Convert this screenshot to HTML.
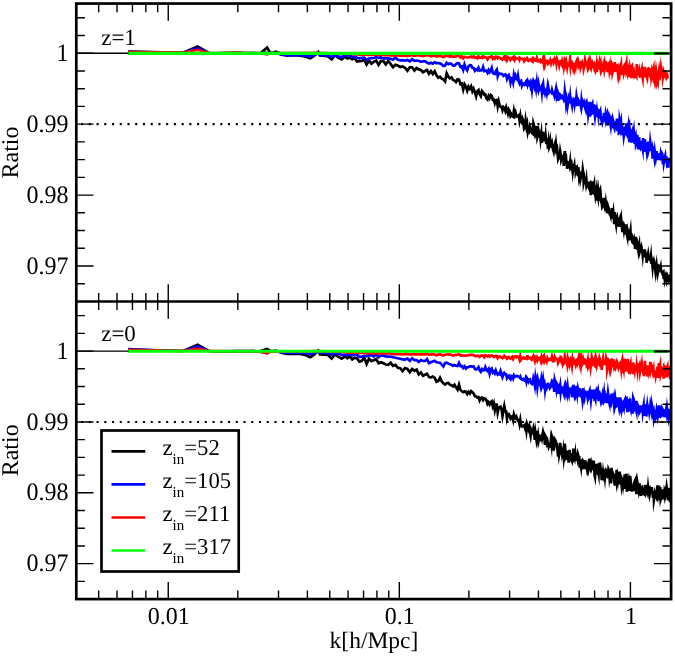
<!DOCTYPE html>
<html><head><meta charset="utf-8"><title>Ratio</title>
<style>
html,body{margin:0;padding:0;background:#fff;}
body{width:675px;height:656px;overflow:hidden;}
svg{display:block;will-change:transform;}
svg text{font-family:"Liberation Serif",serif;fill:#000;text-rendering:geometricPrecision;}
</style></head><body>
<svg width="675" height="656" viewBox="0 0 675 656">
<rect width="675" height="656" fill="#fff"/>
<defs><clipPath id="ct"><rect x="76.3" y="3.55" width="594.8000000000001" height="297.95"/></clipPath>
<clipPath id="cb"><rect x="76.3" y="301.5" width="594.8000000000001" height="297.6"/></clipPath>
<clipPath id="rt"><rect x="76.3" y="3.55" width="268.7" height="297.95"/><rect x="345" y="52.2" width="326.1" height="249.3"/></clipPath>
<clipPath id="rb"><rect x="76.3" y="301.5" width="268.7" height="297.6"/><rect x="345" y="350.1" width="326.1" height="249.0"/></clipPath></defs>
<g clip-path="url(#ct)" fill="none" stroke-linejoin="miter" stroke-miterlimit="10" stroke-linecap="butt">
<path d="M128.0,51.5 L162.8,52.3 L183.1,52.7 L197.6,46.4 L208.8,53.0 L217.9,53.3 L232.3,52.8 L238.3,52.6 L243.6,53.3 L248.4,53.4 L252.8,53.2 L256.7,53.4 L260.4,53.3 L267.1,47.6 L270.2,52.6 L273.0,52.8 L275.7,51.6 L278.3,52.4 L280.8,54.2 L283.1,54.8 L287.5,55.6 L289.5,55.3 L291.5,55.5 L295.0,55.2 L300.0,55.6 L305.0,56.5 L310.3,58.2 L314.0,56.0 L318.3,52.0 L320.0,55.5 L325.0,55.8 L328.0,56.5 L331.7,59.3 L335.0,55.0 L338.0,57.5 L341.7,59.3 L345.0,56.6 L347.4,58.4 L349.8,57.7 L352.2,59.3 L354.6,58.3 L357.0,61.5 L359.4,61.2 L361.8,61.0 L364.2,59.6 L366.6,64.5 L369.0,60.6 L371.4,63.6 L373.8,61.9 L376.2,60.5 L378.6,64.8 L381.0,60.9 L383.4,61.1 L385.8,64.4 L388.2,61.0 L390.6,63.9 L393.0,67.1 L395.4,64.8 L397.8,65.5 L400.2,67.0 L402.6,66.4 L405.0,67.7 L407.4,70.8 L409.8,67.4 L412.1,67.3 L414.4,70.5 L416.6,68.0 L418.8,69.4 L420.9,70.0 L423.0,72.2 L425.0,71.0 L427.0,70.0 L429.0,73.7 L430.9,71.1 L432.8,74.0 L434.7,71.3 L436.5,75.4 L438.3,77.8 L440.0,76.7 L441.7,78.7 L443.4,79.3 L445.1,81.4 L446.7,73.3 L448.4,76.9 L449.9,78.3 L451.5,77.3 L453.0,80.0 L454.5,80.6 L456.0,82.0 L457.5,79.3 L459.0,79.7 L460.4,84.0 L461.8,83.5 L463.2,89.5 L464.5,84.3 L465.9,86.6 L467.2,90.6 L468.5,86.7 L469.8,88.7 L471.1,86.4 L472.4,91.3 L473.6,88.7 L474.9,92.2 L476.1,96.2 L477.3,91.2 L478.5,90.1 L479.6,94.1 L480.8,96.2 L482.0,91.0 L483.1,92.4 L484.2,94.6 L485.3,94.5 L486.4,98.4 L487.5,99.5 L488.6,96.0 L489.6,98.0 L490.7,94.9 L491.7,95.7 L492.8,99.7 L493.8,99.5 L494.8,103.2 L495.8,100.4 L496.8,100.1 L497.7,106.3 L498.7,101.5 L499.7,105.9 L500.6,106.8 L501.6,106.8 L502.5,110.0 L503.4,107.0 L504.3,107.9 L505.3,110.9 L506.2,107.5 L507.0,110.5 L507.9,113.6 L508.8,109.6 L509.7,111.1 L510.5,115.8 L511.4,114.3 L512.2,116.1 L513.1,116.7 L513.9,110.9 L514.7,114.8 L515.5,112.6 L516.4,116.6 L517.2,116.3 L518.0,115.8 L518.8,115.2 L519.5,120.3 L520.3,116.0 L521.1,121.7 L521.9,122.7 L522.6,119.0 L523.4,121.0 L524.1,128.5 L524.9,127.3 L525.6,120.8 L526.4,126.5 L527.1,123.8 L527.8,131.6 L528.5,128.5 L529.2,130.3 L529.9,126.7 L530.6,129.1 L531.3,131.8 L532.0,132.9 L532.7,133.6 L533.4,123.5 L534.1,126.0 L534.8,131.7 L535.4,135.5 L536.1,134.1 L536.8,126.0 L537.4,137.3 L538.1,135.0 L538.7,130.8 L539.4,133.4 L540.0,132.9 L540.6,139.1 L541.3,134.0 L541.9,142.8 L542.5,133.2 L543.1,133.1 L543.8,140.5 L544.4,134.6 L545.0,141.5 L545.6,136.2 L546.2,142.8 L546.8,143.1 L547.4,141.7 L548.0,148.8 L548.6,142.5 L549.1,147.0 L549.7,145.1 L550.3,141.0 L550.9,145.9 L551.5,145.4 L552.0,143.6 L552.6,147.5 L553.1,149.6 L553.7,151.6 L554.3,147.3 L554.8,145.1 L555.4,147.8 L555.9,144.1 L556.4,149.2 L557.0,148.1 L557.5,152.9 L558.1,158.5 L558.6,157.0 L559.1,157.5 L559.6,156.7 L560.2,151.3 L560.7,154.1 L561.2,159.8 L561.7,158.3 L562.2,157.5 L562.7,158.4 L563.3,156.8 L563.8,166.0 L564.3,157.8 L564.8,151.0 L565.3,158.8 L565.7,153.7 L566.2,160.6 L566.7,163.5 L567.2,169.0 L567.7,162.6 L568.2,162.6 L568.7,162.3 L569.1,164.5 L569.6,166.3 L570.1,162.6 L570.6,170.0 L571.0,159.6 L571.5,164.5 L572.0,167.7 L572.4,164.1 L572.9,171.1 L573.3,168.5 L573.8,167.6 L574.3,165.5 L574.7,171.4 L575.2,165.1 L575.6,171.3 L576.1,169.2 L576.5,170.0 L577.0,168.8 L577.4,172.2 L577.9,176.1 L578.3,167.3 L578.8,171.0 L579.2,177.4 L579.7,175.2 L580.1,171.7 L580.6,178.4 L581.0,176.5 L581.5,176.5 L581.9,176.2 L582.4,174.8 L582.8,170.0 L583.3,173.4 L583.7,182.3 L584.2,180.0 L584.6,184.0 L585.1,178.7 L585.5,178.3 L586.0,182.5 L586.4,179.7 L586.9,185.3 L587.3,184.3 L587.8,183.8 L588.2,186.9 L588.7,187.1 L589.1,188.1 L589.6,183.2 L590.0,182.8 L590.5,190.7 L590.9,195.1 L591.4,184.2 L591.8,187.6 L592.3,181.4 L592.7,193.7 L593.2,190.0 L593.6,187.4 L594.1,185.0 L594.5,194.9 L595.0,191.8 L595.4,195.1 L595.9,191.9 L596.3,189.9 L596.8,200.6 L597.2,191.5 L597.7,194.3 L598.1,191.2 L598.6,196.6 L599.0,193.8 L599.5,192.2 L599.9,199.1 L600.4,199.7 L600.8,196.3 L601.3,201.9 L601.7,201.9 L602.2,206.9 L602.6,206.2 L603.1,198.8 L603.5,203.3 L604.0,197.9 L604.4,206.1 L604.9,207.8 L605.3,206.3 L605.8,202.2 L606.2,205.1 L606.7,205.5 L607.1,213.3 L607.6,209.2 L608.0,206.3 L608.5,208.1 L608.9,208.3 L609.4,211.8 L609.8,214.1 L610.3,214.1 L610.7,215.6 L611.2,210.6 L611.6,214.9 L612.1,208.1 L612.5,216.6 L613.0,216.1 L613.4,213.0 L613.9,218.1 L614.3,224.1 L614.8,212.0 L615.2,221.1 L615.7,221.3 L616.1,224.0 L616.6,218.5 L617.0,217.4 L617.5,222.6 L617.9,226.6 L618.4,220.9 L618.8,225.4 L619.3,219.9 L619.7,218.8 L620.2,226.8 L620.6,221.5 L621.1,218.8 L621.5,223.9 L622.0,227.6 L622.4,232.2 L622.9,225.0 L623.3,225.9 L623.8,229.4 L624.2,225.9 L624.7,227.3 L625.1,234.3 L625.6,225.9 L626.0,230.2 L626.5,224.3 L626.9,234.5 L627.4,236.9 L627.8,231.1 L628.3,233.1 L628.7,231.4 L629.2,232.3 L629.6,240.5 L630.1,233.5 L630.5,231.0 L631.0,239.5 L631.4,233.3 L631.9,238.1 L632.3,242.0 L632.8,242.6 L633.2,239.8 L633.7,238.6 L634.1,243.3 L634.6,237.8 L635.0,248.9 L635.5,236.8 L635.9,240.5 L636.4,247.7 L636.8,242.3 L637.3,250.0 L637.7,246.5 L638.2,249.6 L638.6,246.9 L639.1,244.6 L639.5,252.6 L640.0,250.9 L640.4,250.0 L640.9,248.0 L641.3,246.7 L641.8,249.1 L642.2,250.2 L642.7,254.9 L643.1,250.8 L643.6,251.3 L644.0,257.4 L644.5,250.7 L644.9,250.7 L645.4,252.9 L645.8,254.0 L646.3,255.8 L646.7,262.8 L647.2,252.9 L647.6,256.1 L648.1,253.8 L648.5,257.0 L649.0,258.8 L649.4,258.5 L649.9,259.1 L650.3,259.9 L650.8,256.5 L651.2,263.6 L651.7,259.8 L652.1,262.1 L652.6,266.9 L653.0,263.0 L653.5,261.4 L653.9,264.8 L654.4,263.4 L654.8,265.8 L655.3,269.9 L655.7,264.9 L656.2,269.1 L656.6,265.9 L657.1,270.7 L657.5,263.8 L658.0,271.6 L658.4,269.4 L658.9,268.2 L659.3,269.9 L659.8,269.0 L660.2,269.4 L660.7,267.1 L661.1,270.7 L661.6,272.1 L662.0,272.2 L662.5,273.6 L662.9,272.3 L663.4,271.8 L663.8,279.2 L664.3,274.2 L664.7,278.3 L665.2,275.5 L665.6,274.7 L666.1,277.3 L666.5,272.5 L667.0,280.1 L667.4,279.1 L667.9,279.0 L668.3,278.5 L668.8,274.5 L669.2,282.7 L669.7,275.2 L670.1,281.2 L670.6,277.3 L671.0,282.6 L671.5,278.2 L671.9,286.2 L672.4,280.6 L672.8,282.3" stroke="#000000" stroke-width="2.7"/>
<path d="M128.0,51.9 L162.8,52.5 L183.1,52.8 L197.6,48.3 L208.8,53.1 L217.9,53.3 L232.3,53.0 L238.3,52.9 L243.6,53.3 L252.8,53.2 L260.4,53.3 L267.1,52.8 L270.2,53.0 L275.7,53.0 L280.8,54.4 L283.1,54.9 L287.5,55.3 L291.5,55.2 L300.0,55.2 L305.0,55.6 L310.3,56.3 L314.0,55.3 L318.3,53.2 L320.0,55.2 L328.0,55.6 L331.7,57.0 L335.0,55.0 L338.0,56.2 L341.7,57.2 L345.0,55.3 L347.4,55.3 L349.8,55.1 L352.2,56.9 L354.6,56.6 L357.0,57.8 L359.4,58.3 L361.8,57.8 L364.2,57.6 L366.6,59.9 L369.0,58.5 L371.4,58.2 L373.8,58.0 L376.2,57.2 L378.6,57.8 L381.0,57.4 L383.4,58.4 L385.8,58.2 L388.2,58.4 L390.6,58.8 L393.0,59.7 L395.4,57.5 L397.8,59.8 L400.2,60.3 L402.6,60.1 L405.0,60.6 L407.4,60.0 L409.8,61.4 L412.1,59.3 L414.4,60.8 L416.6,60.5 L418.8,60.7 L420.9,61.8 L423.0,61.3 L425.0,61.1 L427.0,62.5 L429.0,63.6 L430.9,62.7 L432.8,63.6 L434.7,62.4 L436.5,63.2 L438.3,63.2 L440.0,63.3 L441.7,64.3 L443.4,65.9 L445.1,65.5 L446.7,62.8 L448.4,64.2 L449.9,63.4 L451.5,64.0 L453.0,65.6 L454.5,65.6 L456.0,64.0 L457.5,63.1 L459.0,63.3 L460.4,66.8 L461.8,66.4 L463.2,69.9 L464.5,64.5 L465.9,68.4 L467.2,70.4 L468.5,66.2 L469.8,65.2 L471.1,65.3 L472.4,67.8 L473.6,68.0 L474.9,70.8 L476.1,69.3 L477.3,70.1 L478.5,67.8 L479.6,70.6 L480.8,70.5 L482.0,70.1 L483.1,67.0 L484.2,71.0 L485.3,70.7 L486.4,70.7 L487.5,72.7 L488.6,70.2 L489.6,72.2 L490.7,70.4 L491.7,67.9 L492.8,73.0 L493.8,73.8 L494.8,74.0 L495.8,71.1 L496.8,69.7 L497.7,76.1 L498.7,73.1 L499.7,73.8 L500.6,73.8 L501.6,73.9 L502.5,74.5 L503.4,75.8 L504.3,75.1 L505.3,74.5 L506.2,75.3 L507.0,78.8 L507.9,76.4 L508.8,75.2 L509.7,78.4 L510.5,82.5 L511.4,78.3 L512.2,78.7 L513.1,82.2 L513.9,75.0 L514.7,78.2 L515.5,75.9 L516.4,78.8 L517.2,79.6 L518.0,75.9 L518.8,81.6 L519.5,83.3 L520.3,81.0 L521.1,80.7 L521.9,85.5 L522.6,83.7 L523.4,83.7 L524.1,84.6 L524.9,83.4 L525.6,84.2 L526.4,80.9 L527.1,80.1 L527.8,84.5 L528.5,82.4 L529.2,83.7 L529.9,82.3 L530.6,86.3 L531.3,84.3 L532.0,89.7 L532.7,84.1 L533.4,80.4 L534.1,81.5 L534.8,86.3 L535.4,84.2 L536.1,88.7 L536.8,82.7 L537.4,88.2 L538.1,90.3 L538.7,84.9 L539.4,89.1 L540.0,87.8 L540.6,88.2 L541.3,86.9 L541.9,92.1 L542.5,85.8 L543.1,83.8 L543.8,91.2 L544.4,90.2 L545.0,92.8 L545.6,90.0 L546.2,89.9 L546.8,92.9 L547.4,88.5 L548.0,95.0 L548.6,89.0 L549.1,91.9 L549.7,92.0 L550.3,91.5 L550.9,91.7 L551.5,92.5 L552.0,90.1 L552.6,92.4 L553.1,93.3 L553.7,93.7 L554.3,95.6 L554.8,92.4 L555.4,92.0 L555.9,89.4 L556.4,94.3 L557.0,91.0 L557.5,93.1 L558.1,100.8 L558.6,96.7 L559.1,98.9 L559.6,98.6 L560.2,95.0 L560.7,95.6 L561.2,95.5 L561.7,95.5 L562.2,98.0 L562.7,97.9 L563.3,98.1 L563.8,99.5 L564.3,97.9 L564.8,91.4 L565.3,95.4 L565.7,96.1 L566.2,103.4 L566.7,100.3 L567.2,104.0 L567.7,97.8 L568.2,102.0 L568.7,99.0 L569.1,100.9 L569.6,100.8 L570.1,96.9 L570.6,103.4 L571.0,96.9 L571.5,102.3 L572.0,105.0 L572.4,101.0 L572.9,106.2 L573.3,101.2 L573.8,99.9 L574.3,101.0 L574.7,104.5 L575.2,101.8 L575.6,100.0 L576.1,100.6 L576.5,96.2 L577.0,99.3 L577.4,106.2 L577.9,102.2 L578.3,101.2 L578.8,103.6 L579.2,103.9 L579.7,102.3 L580.1,102.9 L580.6,105.0 L581.0,106.9 L581.5,101.0 L581.9,104.3 L582.4,101.0 L582.8,102.1 L583.3,105.8 L583.7,105.7 L584.2,103.6 L584.6,105.4 L585.1,107.3 L585.5,105.6 L586.0,108.4 L586.4,105.8 L586.9,108.3 L587.3,105.3 L587.8,107.7 L588.2,113.6 L588.7,109.9 L589.1,107.3 L589.6,102.0 L590.0,116.7 L590.5,112.0 L590.9,115.1 L591.4,108.1 L591.8,104.0 L592.3,103.3 L592.7,114.4 L593.2,107.5 L593.6,109.3 L594.1,104.3 L594.5,111.1 L595.0,115.9 L595.4,112.6 L595.9,105.4 L596.3,110.9 L596.8,117.1 L597.2,112.2 L597.7,115.9 L598.1,108.9 L598.6,115.1 L599.0,112.1 L599.5,111.6 L599.9,113.4 L600.4,111.8 L600.8,115.7 L601.3,119.1 L601.7,121.6 L602.2,123.0 L602.6,121.0 L603.1,116.3 L603.5,122.0 L604.0,112.8 L604.4,117.2 L604.9,117.4 L605.3,119.3 L605.8,113.8 L606.2,115.6 L606.7,115.1 L607.1,125.4 L607.6,118.3 L608.0,114.0 L608.5,115.6 L608.9,121.7 L609.4,122.3 L609.8,119.9 L610.3,123.3 L610.7,125.7 L611.2,120.3 L611.6,118.9 L612.1,115.8 L612.5,128.4 L613.0,120.4 L613.4,122.0 L613.9,124.4 L614.3,126.4 L614.8,123.3 L615.2,123.1 L615.7,122.5 L616.1,125.4 L616.6,122.9 L617.0,118.7 L617.5,127.2 L617.9,130.8 L618.4,119.3 L618.8,133.3 L619.3,133.0 L619.7,119.6 L620.2,122.0 L620.6,126.6 L621.1,123.4 L621.5,129.5 L622.0,128.5 L622.4,134.2 L622.9,134.3 L623.3,130.3 L623.8,136.0 L624.2,133.4 L624.7,126.5 L625.1,131.6 L625.6,129.7 L626.0,130.5 L626.5,123.2 L626.9,134.5 L627.4,135.5 L627.8,130.2 L628.3,126.8 L628.7,132.8 L629.2,130.1 L629.6,142.0 L630.1,131.3 L630.5,133.5 L631.0,142.7 L631.4,133.5 L631.9,132.1 L632.3,142.2 L632.8,139.1 L633.2,134.3 L633.7,131.2 L634.1,137.4 L634.6,143.8 L635.0,136.5 L635.5,135.2 L635.9,143.8 L636.4,142.2 L636.8,139.4 L637.3,134.8 L637.7,143.8 L638.2,149.3 L638.6,141.5 L639.1,137.1 L639.5,145.8 L640.0,147.7 L640.4,148.4 L640.9,146.7 L641.3,145.4 L641.8,140.9 L642.2,145.9 L642.7,148.7 L643.1,138.1 L643.6,145.2 L644.0,152.0 L644.5,144.5 L644.9,139.4 L645.4,145.7 L645.8,145.1 L646.3,147.4 L646.7,150.6 L647.2,145.5 L647.6,150.9 L648.1,141.6 L648.5,150.6 L649.0,148.6 L649.4,147.4 L649.9,147.9 L650.3,142.4 L650.8,146.2 L651.2,150.1 L651.7,150.6 L652.1,149.6 L652.6,158.6 L653.0,149.4 L653.5,151.4 L653.9,152.7 L654.4,156.7 L654.8,152.4 L655.3,156.5 L655.7,158.7 L656.2,155.5 L656.6,151.1 L657.1,160.1 L657.5,154.8 L658.0,159.3 L658.4,153.0 L658.9,156.7 L659.3,160.2 L659.8,153.0 L660.2,158.4 L660.7,154.4 L661.1,156.5 L661.6,155.1 L662.0,153.6 L662.5,154.7 L662.9,164.3 L663.4,157.2 L663.8,162.7 L664.3,159.9 L664.7,158.0 L665.2,156.0 L665.6,160.0 L666.1,159.3 L666.5,158.8 L667.0,163.6 L667.4,162.6 L667.9,162.4 L668.3,167.7 L668.8,157.6" stroke="#0000ff" stroke-width="2.7"/>
<path d="M128.0,52.0 L162.8,52.4 L183.1,52.7 L197.6,49.8 L208.8,53.0 L217.9,53.2 L238.3,52.6 L252.8,53.0 L260.4,53.2 L267.1,54.3 L270.2,53.0 L280.8,53.0 L300.0,53.0 L318.3,52.8 L330.0,53.3 L341.7,53.6 L345.0,53.7 L347.4,54.0 L349.8,53.6 L352.2,54.0 L354.6,54.1 L357.0,54.5 L359.4,54.6 L361.8,54.6 L364.2,54.4 L366.6,54.8 L369.0,54.9 L371.4,54.7 L373.8,54.7 L376.2,54.7 L378.6,55.2 L381.0,54.8 L383.4,54.8 L385.8,55.2 L388.2,54.9 L390.6,55.3 L393.0,55.6 L395.4,55.4 L397.8,55.3 L400.2,55.7 L402.6,55.7 L405.0,55.9 L407.4,56.0 L409.8,55.7 L412.1,54.9 L414.4,55.8 L416.6,55.5 L418.8,55.2 L420.9,55.7 L423.0,56.1 L425.0,55.4 L427.0,55.4 L429.0,55.5 L430.9,56.2 L432.8,55.6 L434.7,55.7 L436.5,56.3 L438.3,56.2 L440.0,56.0 L441.7,56.4 L443.4,57.1 L445.1,56.2 L446.7,55.7 L448.4,56.1 L449.9,56.6 L451.5,56.1 L453.0,56.8 L454.5,56.6 L456.0,56.5 L457.5,55.6 L459.0,55.7 L460.4,57.4 L461.8,56.4 L463.2,58.3 L464.5,56.9 L465.9,57.3 L467.2,57.5 L468.5,57.3 L469.8,57.0 L471.1,56.5 L472.4,57.3 L473.6,56.4 L474.9,57.8 L476.1,57.4 L477.3,58.3 L478.5,56.3 L479.6,57.6 L480.8,57.6 L482.0,57.8 L483.1,55.9 L484.2,57.5 L485.3,57.1 L486.4,57.5 L487.5,59.4 L488.6,57.5 L489.6,57.0 L490.7,56.7 L491.7,56.3 L492.8,58.8 L493.8,57.7 L494.8,58.6 L495.8,56.7 L496.8,56.8 L497.7,58.3 L498.7,57.1 L499.7,57.8 L500.6,58.5 L501.6,58.4 L502.5,59.7 L503.4,59.1 L504.3,56.7 L505.3,58.9 L506.2,56.8 L507.0,59.7 L507.9,57.4 L508.8,58.0 L509.7,58.1 L510.5,59.9 L511.4,58.7 L512.2,57.8 L513.1,58.9 L513.9,57.1 L514.7,59.7 L515.5,57.8 L516.4,58.6 L517.2,58.5 L518.0,58.5 L518.8,57.9 L519.5,59.9 L520.3,58.2 L521.1,58.6 L521.9,58.8 L522.6,58.7 L523.4,59.2 L524.1,60.9 L524.9,59.2 L525.6,60.1 L526.4,59.4 L527.1,58.2 L527.8,59.4 L528.5,60.8 L529.2,60.4 L529.9,60.1 L530.6,59.0 L531.3,59.0 L532.0,61.1 L532.7,61.6 L533.4,58.3 L534.1,59.0 L534.8,60.2 L535.4,60.3 L536.1,60.6 L536.8,58.1 L537.4,61.0 L538.1,61.4 L538.7,60.9 L539.4,60.3 L540.0,59.9 L540.6,61.7 L541.3,61.0 L541.9,61.6 L542.5,60.5 L543.1,58.3 L543.8,63.3 L544.4,59.9 L545.0,64.2 L545.6,61.5 L546.2,61.2 L546.8,61.7 L547.4,61.2 L548.0,63.7 L548.6,62.9 L549.1,62.4 L549.7,62.7 L550.3,60.7 L550.9,63.0 L551.5,60.4 L552.0,60.6 L552.6,60.4 L553.1,60.0 L553.7,62.7 L554.3,61.3 L554.8,59.3 L555.4,60.7 L555.9,59.9 L556.4,63.4 L557.0,59.5 L557.5,61.3 L558.1,62.0 L558.6,62.2 L559.1,64.7 L559.6,61.6 L560.2,61.3 L560.7,61.8 L561.2,63.9 L561.7,64.8 L562.2,61.8 L562.7,64.0 L563.3,63.2 L563.8,66.9 L564.3,63.5 L564.8,59.0 L565.3,59.6 L565.7,63.4 L566.2,61.5 L566.7,64.2 L567.2,67.3 L567.7,64.2 L568.2,64.8 L568.7,65.1 L569.1,63.7 L569.6,62.7 L570.1,59.2 L570.6,65.7 L571.0,62.9 L571.5,64.9 L572.0,65.6 L572.4,64.5 L572.9,67.0 L573.3,64.1 L573.8,64.3 L574.3,67.8 L574.7,65.3 L575.2,64.7 L575.6,66.6 L576.1,62.1 L576.5,61.6 L577.0,60.3 L577.4,61.8 L577.9,64.2 L578.3,62.1 L578.8,64.3 L579.2,62.7 L579.7,62.6 L580.1,62.5 L580.6,67.4 L581.0,66.1 L581.5,62.5 L581.9,62.0 L582.4,64.7 L582.8,64.0 L583.3,64.4 L583.7,68.7 L584.2,66.7 L584.6,65.3 L585.1,60.0 L585.5,61.7 L586.0,64.1 L586.4,64.1 L586.9,63.9 L587.3,65.9 L587.8,63.9 L588.2,69.2 L588.7,68.4 L589.1,62.8 L589.6,60.8 L590.0,66.9 L590.5,66.9 L590.9,67.9 L591.4,64.2 L591.8,65.7 L592.3,64.2 L592.7,66.7 L593.2,66.3 L593.6,65.2 L594.1,61.7 L594.5,69.8 L595.0,70.8 L595.4,65.0 L595.9,65.9 L596.3,67.1 L596.8,72.2 L597.2,64.1 L597.7,66.7 L598.1,67.0 L598.6,67.5 L599.0,65.1 L599.5,62.4 L599.9,65.0 L600.4,68.1 L600.8,65.5 L601.3,71.1 L601.7,70.1 L602.2,70.1 L602.6,70.3 L603.1,66.7 L603.5,68.1 L604.0,64.9 L604.4,68.9 L604.9,65.8 L605.3,69.0 L605.8,61.1 L606.2,69.1 L606.7,64.8 L607.1,72.3 L607.6,67.6 L608.0,64.0 L608.5,63.6 L608.9,64.7 L609.4,69.7 L609.8,67.1 L610.3,74.7 L610.7,68.4 L611.2,65.3 L611.6,63.8 L612.1,65.3 L612.5,72.4 L613.0,70.3 L613.4,64.1 L613.9,64.0 L614.3,72.1 L614.8,62.0 L615.2,70.3 L615.7,70.7 L616.1,70.8 L616.6,68.7 L617.0,65.6 L617.5,65.3 L617.9,70.4 L618.4,66.8 L618.8,73.7 L619.3,70.8 L619.7,73.4 L620.2,69.1 L620.6,67.1 L621.1,64.8 L621.5,71.0 L622.0,66.8 L622.4,75.0 L622.9,69.0 L623.3,68.1 L623.8,73.0 L624.2,71.4 L624.7,69.2 L625.1,73.7 L625.6,63.1 L626.0,67.6 L626.5,64.4 L626.9,72.2 L627.4,73.9 L627.8,70.9 L628.3,68.5 L628.7,70.1 L629.2,73.6 L629.6,76.8 L630.1,68.5 L630.5,70.5 L631.0,78.1 L631.4,67.0 L631.9,66.2 L632.3,76.5 L632.8,76.6 L633.2,71.7 L633.7,70.5 L634.1,72.8 L634.6,76.9 L635.0,76.5 L635.5,70.7 L635.9,75.5 L636.4,76.4 L636.8,64.1 L637.3,72.2 L637.7,71.6 L638.2,72.5 L638.6,73.4 L639.1,71.1 L639.5,74.8 L640.0,74.5 L640.4,76.3 L640.9,76.1 L641.3,71.1 L641.8,69.2 L642.2,75.4 L642.7,78.0 L643.1,71.0 L643.6,66.8 L644.0,76.0 L644.5,75.5 L644.9,66.8 L645.4,76.2 L645.8,76.3 L646.3,75.7 L646.7,76.9 L647.2,69.9 L647.6,73.0 L648.1,67.5 L648.5,71.7 L649.0,73.0 L649.4,69.1 L649.9,69.4 L650.3,74.8 L650.8,70.4 L651.2,76.1 L651.7,72.8 L652.1,75.9 L652.6,77.4 L653.0,70.1 L653.5,68.2 L653.9,76.5 L654.4,76.4 L654.8,79.4 L655.3,75.2 L655.7,78.0 L656.2,71.8 L656.6,74.7 L657.1,80.1 L657.5,77.9 L658.0,80.5 L658.4,75.4 L658.9,71.9 L659.3,77.1 L659.8,77.9 L660.2,76.4 L660.7,74.5 L661.1,67.9 L661.6,70.9 L662.0,69.7 L662.5,70.6 L662.9,77.1 L663.4,74.3 L663.8,78.1 L664.3,72.8 L664.7,77.0 L665.2,70.2 L665.6,76.5 L666.1,76.7 L666.5,77.9 L667.0,76.8 L667.4,75.6 L667.9,76.9 L668.3,76.6" stroke="#ff0000" stroke-width="2.7" clip-path="url(#rt)"/>
<path d="M128,53.4 L667.8,53.4" stroke="#00ff00" stroke-width="3.1"/>
<path d="M76.3,53.25 L128.5,53.25" stroke="#000" stroke-width="1.3"/>
<path d="M653.9,53.6 L671.1,53.6" stroke="#000" stroke-width="1.9"/>
<path d="M76.3,124.14880952380884 L671.1,124.14880952380884" stroke="#000" stroke-width="2.1" stroke-dasharray="2.1 5.635" stroke-dashoffset="2.995"/>
</g>
<g clip-path="url(#cb)" fill="none" stroke-linejoin="miter" stroke-miterlimit="10" stroke-linecap="butt">
<path d="M128.0,349.6 L162.8,350.7 L183.1,351.0 L197.6,344.7 L208.8,351.0 L217.9,351.3 L232.3,351.5 L238.3,351.2 L243.6,351.3 L248.4,351.4 L252.8,351.2 L256.7,351.4 L260.4,351.0 L267.1,349.0 L270.2,351.0 L273.0,351.2 L275.7,350.6 L278.3,351.4 L280.8,352.6 L283.1,353.2 L287.5,354.0 L289.5,353.8 L291.5,353.9 L295.0,353.7 L300.0,354.0 L305.0,354.8 L310.3,357.2 L314.0,354.6 L318.3,350.8 L320.0,354.4 L325.0,354.6 L328.0,355.0 L331.7,358.6 L335.0,354.5 L338.0,356.5 L341.7,358.6 L345.0,356.3 L347.4,358.2 L349.8,356.4 L352.2,359.4 L354.6,357.8 L357.0,358.5 L359.4,361.6 L361.8,360.8 L364.2,357.5 L366.6,364.0 L369.0,358.6 L371.4,361.1 L373.8,360.3 L376.2,359.1 L378.6,363.3 L381.0,362.2 L383.4,363.3 L385.8,364.5 L388.2,364.8 L390.6,362.7 L393.0,365.8 L395.4,364.9 L397.8,367.7 L400.2,368.2 L402.6,371.1 L405.0,368.0 L407.4,368.9 L409.8,372.2 L412.1,368.9 L414.4,370.8 L416.6,369.6 L418.8,374.4 L420.9,372.6 L423.0,375.8 L425.0,374.7 L427.0,373.8 L429.0,377.1 L430.9,377.4 L432.8,376.5 L434.7,377.9 L436.5,381.7 L438.3,380.9 L440.0,377.8 L441.7,381.4 L443.4,383.2 L445.1,384.6 L446.7,383.3 L448.4,382.9 L449.9,384.8 L451.5,385.2 L453.0,386.4 L454.5,384.8 L456.0,387.4 L457.5,389.6 L459.0,384.6 L460.4,389.9 L461.8,391.3 L463.2,392.2 L464.5,391.3 L465.9,391.7 L467.2,394.0 L468.5,391.9 L469.8,393.5 L471.1,391.2 L472.4,392.3 L473.6,393.5 L474.9,396.2 L476.1,396.4 L477.3,397.6 L478.5,397.2 L479.6,400.5 L480.8,398.0 L482.0,397.7 L483.1,400.0 L484.2,398.3 L485.3,398.7 L486.4,400.1 L487.5,403.9 L488.6,402.3 L489.6,404.4 L490.7,402.3 L491.7,401.4 L492.8,406.2 L493.8,403.4 L494.8,409.7 L495.8,404.4 L496.8,404.6 L497.7,412.4 L498.7,408.0 L499.7,407.1 L500.6,406.6 L501.6,409.5 L502.5,415.9 L503.4,410.7 L504.3,406.0 L505.3,411.4 L506.2,411.6 L507.0,418.5 L507.9,415.1 L508.8,414.2 L509.7,415.5 L510.5,418.3 L511.4,416.7 L512.2,416.5 L513.1,419.9 L513.9,414.4 L514.7,416.9 L515.5,418.1 L516.4,416.6 L517.2,419.0 L518.0,420.4 L518.8,421.3 L519.5,424.4 L520.3,419.9 L521.1,425.1 L521.9,426.5 L522.6,426.5 L523.4,425.7 L524.1,425.3 L524.9,427.8 L525.6,425.8 L526.4,430.9 L527.1,424.7 L527.8,427.2 L528.5,429.2 L529.2,426.7 L529.9,431.9 L530.6,435.6 L531.3,430.0 L532.0,431.6 L532.7,432.5 L533.4,428.9 L534.1,432.6 L534.8,439.8 L535.4,432.5 L536.1,437.3 L536.8,431.0 L537.4,438.8 L538.1,434.9 L538.7,439.7 L539.4,435.8 L540.0,435.8 L540.6,438.3 L541.3,436.8 L541.9,438.9 L542.5,435.7 L543.1,432.0 L543.8,434.7 L544.4,438.2 L545.0,445.0 L545.6,436.6 L546.2,437.9 L546.8,442.8 L547.4,441.2 L548.0,444.7 L548.6,446.8 L549.1,445.0 L549.7,445.4 L550.3,446.0 L550.9,440.2 L551.5,444.5 L552.0,437.0 L552.6,439.1 L553.1,449.2 L553.7,449.4 L554.3,447.3 L554.8,439.5 L555.4,440.5 L555.9,441.6 L556.4,444.3 L557.0,444.3 L557.5,449.8 L558.1,456.6 L558.6,448.5 L559.1,454.5 L559.6,451.6 L560.2,442.9 L560.7,450.5 L561.2,449.7 L561.7,452.8 L562.2,448.8 L562.7,456.2 L563.3,451.4 L563.8,457.4 L564.3,453.2 L564.8,443.7 L565.3,450.5 L565.7,456.0 L566.2,454.5 L566.7,454.4 L567.2,459.8 L567.7,450.5 L568.2,457.3 L568.7,462.6 L569.1,457.2 L569.6,449.8 L570.1,459.9 L570.6,453.2 L571.0,456.8 L571.5,460.4 L572.0,461.4 L572.4,456.7 L572.9,461.5 L573.3,448.5 L573.8,456.0 L574.3,457.0 L574.7,458.4 L575.2,454.8 L575.6,460.5 L576.1,455.5 L576.5,456.6 L577.0,456.7 L577.4,458.6 L577.9,454.2 L578.3,455.5 L578.8,461.4 L579.2,456.0 L579.7,467.8 L580.1,459.3 L580.6,464.7 L581.0,467.0 L581.5,460.7 L581.9,460.4 L582.4,467.6 L582.8,467.1 L583.3,462.1 L583.7,463.0 L584.2,464.4 L584.6,469.2 L585.1,460.1 L585.5,466.9 L586.0,461.5 L586.4,466.3 L586.9,467.8 L587.3,470.3 L587.8,468.3 L588.2,470.1 L588.7,467.4 L589.1,459.9 L589.6,459.7 L590.0,461.0 L590.5,469.4 L590.9,470.3 L591.4,468.8 L591.8,465.7 L592.3,468.9 L592.7,468.7 L593.2,466.2 L593.6,460.6 L594.1,464.5 L594.5,474.8 L595.0,476.9 L595.4,470.8 L595.9,467.0 L596.3,463.9 L596.8,473.4 L597.2,473.3 L597.7,472.7 L598.1,470.8 L598.6,473.6 L599.0,463.1 L599.5,468.9 L599.9,462.6 L600.4,467.7 L600.8,469.3 L601.3,470.8 L601.7,480.3 L602.2,472.3 L602.6,477.2 L603.1,472.5 L603.5,475.2 L604.0,473.0 L604.4,473.1 L604.9,477.2 L605.3,472.7 L605.8,473.7 L606.2,471.2 L606.7,472.4 L607.1,475.4 L607.6,476.4 L608.0,475.9 L608.5,469.2 L608.9,470.1 L609.4,476.1 L609.8,473.1 L610.3,481.9 L610.7,482.0 L611.2,472.7 L611.6,467.8 L612.1,477.1 L612.5,471.3 L613.0,477.5 L613.4,473.4 L613.9,481.1 L614.3,481.0 L614.8,485.5 L615.2,474.8 L615.7,485.5 L616.1,482.8 L616.6,469.8 L617.0,480.0 L617.5,477.0 L617.9,480.2 L618.4,476.2 L618.8,481.6 L619.3,481.3 L619.7,471.5 L620.2,484.4 L620.6,479.9 L621.1,479.6 L621.5,483.7 L622.0,479.0 L622.4,479.9 L622.9,483.7 L623.3,479.5 L623.8,485.1 L624.2,483.6 L624.7,474.4 L625.1,488.8 L625.6,484.3 L626.0,481.8 L626.5,473.7 L626.9,491.7 L627.4,488.9 L627.8,480.2 L628.3,481.5 L628.7,479.7 L629.2,483.1 L629.6,491.0 L630.1,475.8 L630.5,479.3 L631.0,489.0 L631.4,485.4 L631.9,491.7 L632.3,485.2 L632.8,490.6 L633.2,485.3 L633.7,484.4 L634.1,482.6 L634.6,481.5 L635.0,491.3 L635.5,484.9 L635.9,482.9 L636.4,494.3 L636.8,483.5 L637.3,491.3 L637.7,484.7 L638.2,487.7 L638.6,490.1 L639.1,486.0 L639.5,483.2 L640.0,494.4 L640.4,489.6 L640.9,495.9 L641.3,487.7 L641.8,487.2 L642.2,489.0 L642.7,489.7 L643.1,495.2 L643.6,489.7 L644.0,494.1 L644.5,494.5 L644.9,485.4 L645.4,490.3 L645.8,484.9 L646.3,491.3 L646.7,490.0 L647.2,491.1 L647.6,492.5 L648.1,487.2 L648.5,490.4 L649.0,488.3 L649.4,487.9 L649.9,493.7 L650.3,491.8 L650.8,487.1 L651.2,493.8 L651.7,487.1 L652.1,491.6 L652.6,493.3 L653.0,498.0 L653.5,491.0 L653.9,499.6 L654.4,496.4 L654.8,493.6 L655.3,495.6 L655.7,495.8 L656.2,496.9 L656.6,493.4 L657.1,495.2 L657.5,485.4 L658.0,498.9 L658.4,492.6 L658.9,485.6 L659.3,500.3 L659.8,491.5 L660.2,487.0 L660.7,499.2 L661.1,497.9 L661.6,496.7 L662.0,495.0 L662.5,489.3 L662.9,494.1 L663.4,492.7 L663.8,499.4 L664.3,493.9 L664.7,496.1 L665.2,492.7 L665.6,494.2 L666.1,490.5 L666.5,496.0 L667.0,489.6 L667.4,492.4 L667.9,495.8 L668.3,500.2 L668.8,494.5 L669.2,500.7 L669.7,487.8 L670.1,502.1 L670.6,498.8 L671.0,497.7 L671.5,500.4 L671.9,494.1 L672.4,493.3 L672.8,495.1" stroke="#000000" stroke-width="2.7"/>
<path d="M128.0,349.1 L162.8,350.5 L183.1,351.0 L197.6,346.4 L208.8,351.0 L217.9,351.3 L238.3,351.2 L252.8,351.2 L260.4,351.6 L267.1,353.0 L270.2,351.6 L275.7,351.2 L280.8,352.2 L283.1,352.6 L287.5,353.0 L300.0,352.8 L305.0,353.2 L310.3,354.2 L314.0,353.0 L318.3,351.2 L320.0,352.8 L328.0,353.2 L331.7,354.8 L335.0,353.0 L338.0,353.8 L341.7,354.8 L345.0,354.9 L347.4,354.9 L349.8,354.5 L352.2,355.4 L354.6,354.2 L357.0,354.9 L359.4,356.9 L361.8,356.6 L364.2,355.8 L366.6,356.3 L369.0,355.3 L371.4,355.1 L373.8,356.5 L376.2,353.9 L378.6,357.2 L381.0,355.6 L383.4,355.5 L385.8,356.5 L388.2,356.7 L390.6,356.5 L393.0,357.1 L395.4,357.7 L397.8,358.2 L400.2,358.7 L402.6,359.3 L405.0,359.6 L407.4,358.6 L409.8,360.8 L412.1,358.3 L414.4,360.1 L416.6,360.0 L418.8,362.0 L420.9,360.1 L423.0,361.0 L425.0,360.9 L427.0,359.1 L429.0,363.2 L430.9,362.3 L432.8,361.5 L434.7,360.8 L436.5,362.2 L438.3,362.5 L440.0,362.7 L441.7,364.7 L443.4,366.5 L445.1,363.0 L446.7,362.6 L448.4,363.6 L449.9,364.3 L451.5,364.8 L453.0,365.8 L454.5,365.0 L456.0,365.7 L457.5,366.0 L459.0,362.9 L460.4,366.1 L461.8,366.0 L463.2,368.0 L464.5,366.3 L465.9,368.5 L467.2,367.2 L468.5,367.1 L469.8,366.3 L471.1,366.3 L472.4,366.7 L473.6,366.4 L474.9,369.0 L476.1,369.4 L477.3,368.6 L478.5,367.2 L479.6,370.3 L480.8,371.7 L482.0,369.2 L483.1,370.4 L484.2,370.2 L485.3,367.1 L486.4,369.7 L487.5,370.9 L488.6,369.1 L489.6,373.6 L490.7,369.1 L491.7,368.4 L492.8,372.7 L493.8,371.6 L494.8,373.3 L495.8,370.5 L496.8,373.2 L497.7,374.6 L498.7,373.5 L499.7,374.2 L500.6,371.0 L501.6,373.8 L502.5,377.1 L503.4,374.6 L504.3,372.9 L505.3,374.1 L506.2,374.3 L507.0,378.2 L507.9,377.0 L508.8,375.9 L509.7,378.1 L510.5,379.2 L511.4,375.9 L512.2,376.1 L513.1,378.3 L513.9,375.5 L514.7,377.0 L515.5,376.4 L516.4,375.9 L517.2,376.2 L518.0,376.3 L518.8,376.8 L519.5,377.5 L520.3,376.4 L521.1,378.9 L521.9,379.5 L522.6,379.6 L523.4,379.0 L524.1,380.2 L524.9,380.7 L525.6,378.5 L526.4,381.9 L527.1,378.3 L527.8,379.5 L528.5,381.4 L529.2,379.6 L529.9,379.3 L530.6,382.0 L531.3,383.1 L532.0,383.9 L532.7,382.7 L533.4,378.3 L534.1,380.8 L534.8,385.0 L535.4,378.3 L536.1,383.2 L536.8,380.2 L537.4,386.8 L538.1,381.3 L538.7,384.3 L539.4,384.3 L540.0,382.4 L540.6,385.4 L541.3,380.3 L541.9,385.6 L542.5,383.5 L543.1,379.3 L543.8,384.6 L544.4,383.4 L545.0,389.6 L545.6,384.7 L546.2,385.1 L546.8,387.2 L547.4,384.6 L548.0,383.9 L548.6,384.4 L549.1,386.4 L549.7,388.0 L550.3,386.6 L550.9,384.5 L551.5,382.6 L552.0,384.5 L552.6,383.0 L553.1,386.5 L553.7,386.8 L554.3,391.9 L554.8,381.0 L555.4,383.6 L555.9,386.2 L556.4,389.6 L557.0,385.6 L557.5,387.4 L558.1,393.9 L558.6,386.6 L559.1,387.5 L559.6,388.5 L560.2,385.4 L560.7,391.6 L561.2,388.0 L561.7,387.7 L562.2,388.9 L562.7,391.9 L563.3,391.9 L563.8,393.6 L564.3,387.5 L564.8,385.6 L565.3,389.2 L565.7,391.7 L566.2,387.6 L566.7,389.8 L567.2,392.8 L567.7,387.9 L568.2,392.5 L568.7,394.3 L569.1,388.4 L569.6,388.6 L570.1,392.4 L570.6,392.8 L571.0,389.5 L571.5,388.8 L572.0,397.3 L572.4,389.1 L572.9,396.4 L573.3,384.7 L573.8,387.9 L574.3,391.1 L574.7,395.0 L575.2,393.2 L575.6,395.3 L576.1,393.3 L576.5,385.7 L577.0,389.8 L577.4,393.5 L577.9,389.2 L578.3,391.2 L578.8,396.6 L579.2,387.9 L579.7,396.1 L580.1,388.6 L580.6,395.8 L581.0,396.3 L581.5,394.1 L581.9,395.5 L582.4,399.4 L582.8,394.8 L583.3,388.2 L583.7,396.7 L584.2,394.1 L584.6,396.6 L585.1,392.9 L585.5,392.3 L586.0,393.0 L586.4,393.6 L586.9,393.8 L587.3,396.0 L587.8,390.8 L588.2,398.6 L588.7,397.3 L589.1,392.2 L589.6,390.8 L590.0,395.8 L590.5,395.9 L590.9,399.6 L591.4,394.8 L591.8,389.6 L592.3,394.9 L592.7,396.7 L593.2,397.2 L593.6,393.3 L594.1,389.6 L594.5,398.2 L595.0,397.6 L595.4,399.0 L595.9,390.7 L596.3,390.0 L596.8,398.9 L597.2,395.3 L597.7,396.5 L598.1,394.0 L598.6,401.1 L599.0,390.7 L599.5,396.5 L599.9,392.6 L600.4,398.2 L600.8,398.6 L601.3,402.6 L601.7,401.7 L602.2,399.4 L602.6,396.1 L603.1,399.1 L603.5,397.3 L604.0,393.5 L604.4,398.7 L604.9,397.0 L605.3,401.6 L605.8,401.5 L606.2,396.1 L606.7,395.3 L607.1,403.1 L607.6,397.3 L608.0,393.1 L608.5,396.8 L608.9,401.3 L609.4,403.3 L609.8,395.1 L610.3,404.9 L610.7,405.3 L611.2,402.4 L611.6,393.6 L612.1,403.2 L612.5,399.4 L613.0,397.4 L613.4,398.9 L613.9,403.7 L614.3,399.7 L614.8,403.7 L615.2,400.7 L615.7,406.8 L616.1,406.4 L616.6,398.9 L617.0,399.3 L617.5,401.3 L617.9,397.5 L618.4,403.5 L618.8,405.9 L619.3,400.9 L619.7,398.6 L620.2,398.7 L620.6,406.7 L621.1,404.6 L621.5,407.7 L622.0,403.2 L622.4,404.3 L622.9,406.8 L623.3,405.1 L623.8,407.1 L624.2,401.8 L624.7,400.5 L625.1,408.3 L625.6,399.3 L626.0,406.5 L626.5,396.5 L626.9,408.1 L627.4,412.2 L627.8,399.0 L628.3,403.4 L628.7,406.2 L629.2,404.3 L629.6,411.4 L630.1,398.5 L630.5,407.1 L631.0,409.4 L631.4,406.6 L631.9,405.5 L632.3,406.2 L632.8,413.7 L633.2,398.0 L633.7,399.4 L634.1,405.6 L634.6,405.4 L635.0,411.4 L635.5,400.9 L635.9,409.1 L636.4,411.2 L636.8,401.4 L637.3,409.0 L637.7,404.4 L638.2,409.3 L638.6,411.0 L639.1,407.9 L639.5,408.7 L640.0,411.7 L640.4,411.1 L640.9,405.4 L641.3,409.3 L641.8,409.7 L642.2,405.9 L642.7,411.7 L643.1,408.6 L643.6,405.7 L644.0,415.9 L644.5,410.7 L644.9,405.0 L645.4,410.8 L645.8,404.2 L646.3,416.4 L646.7,409.7 L647.2,405.7 L647.6,409.4 L648.1,407.1 L648.5,408.3 L649.0,411.2 L649.4,406.5 L649.9,411.2 L650.3,406.9 L650.8,410.1 L651.2,411.8 L651.7,404.4 L652.1,406.6 L652.6,413.7 L653.0,412.5 L653.5,411.1 L653.9,417.9 L654.4,415.3 L654.8,412.5 L655.3,413.6 L655.7,416.0 L656.2,413.3 L656.6,410.4 L657.1,413.2 L657.5,408.7 L658.0,414.1 L658.4,411.5 L658.9,405.4 L659.3,418.0 L659.8,409.6 L660.2,406.1 L660.7,413.6 L661.1,415.5 L661.6,414.7 L662.0,408.3 L662.5,409.2 L662.9,414.0 L663.4,409.5 L663.8,417.2 L664.3,413.8 L664.7,409.2 L665.2,414.4 L665.6,415.0 L666.1,410.9 L666.5,413.0 L667.0,408.3 L667.4,411.4 L667.9,416.5 L668.3,418.2 L668.8,411.0 L669.2,420.0 L669.7,408.9 L670.1,419.5 L670.6,416.2 L671.0,416.9 L671.5,414.7 L671.9,412.3 L672.4,417.4 L672.8,412.8" stroke="#0000ff" stroke-width="2.7"/>
<path d="M128.0,349.9 L162.8,350.7 L183.1,351.0 L197.6,348.7 L208.8,351.0 L217.9,351.2 L238.3,351.4 L252.8,351.1 L260.4,351.8 L267.1,353.4 L270.2,351.6 L280.8,351.3 L300.0,351.4 L318.3,351.0 L330.0,351.5 L341.7,351.8 L345.0,352.5 L347.4,352.4 L349.8,352.3 L352.2,352.6 L354.6,352.5 L357.0,352.7 L359.4,353.2 L361.8,352.9 L364.2,352.9 L366.6,353.4 L369.0,352.9 L371.4,353.2 L373.8,353.4 L376.2,353.0 L378.6,353.6 L381.0,353.1 L383.4,353.4 L385.8,353.6 L388.2,353.5 L390.6,353.4 L393.0,353.8 L395.4,354.1 L397.8,354.1 L400.2,354.2 L402.6,354.5 L405.0,354.2 L407.4,353.9 L409.8,354.5 L412.1,354.3 L414.4,354.3 L416.6,354.3 L418.8,354.3 L420.9,354.2 L423.0,354.3 L425.0,354.3 L427.0,354.0 L429.0,354.7 L430.9,354.6 L432.8,354.1 L434.7,354.5 L436.5,355.2 L438.3,354.6 L440.0,354.2 L441.7,355.1 L443.4,355.3 L445.1,354.9 L446.7,354.5 L448.4,354.3 L449.9,354.5 L451.5,354.8 L453.0,355.5 L454.5,355.0 L456.0,354.8 L457.5,354.8 L459.0,354.3 L460.4,355.6 L461.8,355.2 L463.2,355.7 L464.5,355.5 L465.9,355.7 L467.2,355.5 L468.5,355.2 L469.8,355.2 L471.1,354.7 L472.4,354.8 L473.6,355.3 L474.9,355.9 L476.1,356.1 L477.3,355.9 L478.5,355.8 L479.6,356.8 L480.8,355.7 L482.0,355.4 L483.1,355.7 L484.2,357.2 L485.3,355.3 L486.4,355.8 L487.5,356.4 L488.6,355.7 L489.6,356.7 L490.7,355.6 L491.7,355.4 L492.8,356.1 L493.8,357.0 L494.8,356.4 L495.8,355.8 L496.8,355.9 L497.7,358.1 L498.7,356.9 L499.7,356.3 L500.6,357.1 L501.6,357.6 L502.5,358.1 L503.4,357.5 L504.3,355.9 L505.3,357.1 L506.2,357.1 L507.0,358.7 L507.9,358.0 L508.8,357.1 L509.7,358.1 L510.5,358.7 L511.4,357.7 L512.2,356.9 L513.1,358.9 L513.9,356.9 L514.7,356.6 L515.5,356.4 L516.4,357.3 L517.2,356.3 L518.0,356.6 L518.8,357.1 L519.5,359.3 L520.3,356.0 L521.1,359.6 L521.9,358.4 L522.6,358.3 L523.4,357.7 L524.1,358.5 L524.9,357.9 L525.6,358.4 L526.4,358.8 L527.1,356.3 L527.8,356.3 L528.5,358.1 L529.2,357.5 L529.9,357.5 L530.6,358.7 L531.3,358.2 L532.0,359.6 L532.7,358.7 L533.4,356.5 L534.1,358.5 L534.8,360.8 L535.4,357.7 L536.1,358.9 L536.8,357.5 L537.4,360.1 L538.1,358.4 L538.7,359.0 L539.4,358.1 L540.0,357.7 L540.6,360.0 L541.3,357.4 L541.9,360.8 L542.5,358.7 L543.1,357.4 L543.8,360.1 L544.4,357.6 L545.0,360.6 L545.6,359.3 L546.2,359.3 L546.8,361.1 L547.4,358.3 L548.0,359.6 L548.6,360.0 L549.1,359.8 L549.7,359.8 L550.3,358.8 L550.9,358.9 L551.5,359.5 L552.0,357.0 L552.6,359.7 L553.1,359.0 L553.7,361.1 L554.3,361.0 L554.8,357.1 L555.4,358.4 L555.9,358.9 L556.4,358.9 L557.0,359.3 L557.5,359.1 L558.1,362.6 L558.6,361.4 L559.1,361.0 L559.6,360.4 L560.2,358.3 L560.7,359.6 L561.2,360.9 L561.7,359.4 L562.2,361.2 L562.7,363.9 L563.3,362.1 L563.8,363.8 L564.3,363.2 L564.8,357.4 L565.3,360.8 L565.7,361.3 L566.2,362.1 L566.7,360.9 L567.2,364.0 L567.7,359.4 L568.2,362.6 L568.7,364.1 L569.1,359.0 L569.6,359.5 L570.1,363.7 L570.6,362.3 L571.0,360.2 L571.5,361.5 L572.0,365.1 L572.4,361.1 L572.9,365.2 L573.3,357.5 L573.8,361.0 L574.3,361.9 L574.7,361.9 L575.2,361.9 L575.6,363.8 L576.1,361.6 L576.5,359.8 L577.0,359.5 L577.4,362.5 L577.9,360.5 L578.3,358.9 L578.8,364.8 L579.2,360.1 L579.7,362.8 L580.1,358.7 L580.6,361.3 L581.0,364.4 L581.5,359.8 L581.9,362.4 L582.4,364.4 L582.8,363.7 L583.3,360.0 L583.7,361.8 L584.2,362.5 L584.6,361.4 L585.1,360.1 L585.5,360.6 L586.0,361.4 L586.4,363.9 L586.9,362.5 L587.3,364.3 L587.8,361.3 L588.2,367.1 L588.7,366.1 L589.1,359.3 L589.6,359.3 L590.0,364.5 L590.5,367.8 L590.9,364.1 L591.4,361.9 L591.8,357.6 L592.3,359.8 L592.7,363.7 L593.2,362.9 L593.6,361.5 L594.1,360.2 L594.5,364.6 L595.0,366.3 L595.4,366.6 L595.9,358.7 L596.3,361.1 L596.8,365.3 L597.2,363.5 L597.7,362.7 L598.1,357.8 L598.6,365.3 L599.0,361.3 L599.5,358.0 L599.9,359.2 L600.4,367.1 L600.8,362.0 L601.3,362.8 L601.7,369.8 L602.2,365.1 L602.6,362.8 L603.1,359.4 L603.5,363.6 L604.0,363.2 L604.4,363.9 L604.9,363.7 L605.3,362.7 L605.8,363.2 L606.2,358.7 L606.7,360.8 L607.1,369.5 L607.6,366.7 L608.0,362.4 L608.5,360.1 L608.9,360.7 L609.4,364.9 L609.8,360.4 L610.3,366.8 L610.7,369.4 L611.2,366.5 L611.6,358.3 L612.1,366.2 L612.5,362.1 L613.0,367.2 L613.4,359.2 L613.9,365.6 L614.3,367.8 L614.8,366.7 L615.2,365.1 L615.7,367.5 L616.1,366.5 L616.6,364.2 L617.0,362.2 L617.5,363.8 L617.9,365.1 L618.4,367.6 L618.8,366.3 L619.3,366.7 L619.7,363.1 L620.2,362.7 L620.6,365.2 L621.1,368.6 L621.5,363.0 L622.0,360.9 L622.4,373.0 L622.9,369.0 L623.3,364.9 L623.8,368.2 L624.2,363.1 L624.7,358.7 L625.1,371.6 L625.6,365.8 L626.0,366.6 L626.5,359.6 L626.9,368.0 L627.4,369.0 L627.8,358.9 L628.3,365.7 L628.7,365.9 L629.2,365.5 L629.6,374.1 L630.1,365.0 L630.5,363.6 L631.0,372.2 L631.4,368.0 L631.9,370.0 L632.3,369.7 L632.8,374.0 L633.2,362.5 L633.7,367.3 L634.1,367.0 L634.6,370.0 L635.0,365.9 L635.5,366.1 L635.9,366.1 L636.4,371.5 L636.8,365.9 L637.3,369.5 L637.7,363.2 L638.2,371.7 L638.6,367.2 L639.1,367.2 L639.5,365.8 L640.0,371.7 L640.4,369.4 L640.9,367.4 L641.3,367.1 L641.8,364.0 L642.2,368.2 L642.7,370.3 L643.1,369.3 L643.6,368.7 L644.0,376.3 L644.5,370.2 L644.9,360.8 L645.4,369.9 L645.8,365.5 L646.3,374.3 L646.7,371.1 L647.2,365.3 L647.6,376.8 L648.1,366.7 L648.5,366.7 L649.0,370.8 L649.4,368.4 L649.9,368.8 L650.3,361.8 L650.8,369.8 L651.2,368.0 L651.7,365.6 L652.1,366.3 L652.6,369.9 L653.0,372.2 L653.5,369.7 L653.9,375.9 L654.4,375.6 L654.8,371.7 L655.3,372.3 L655.7,375.4 L656.2,372.5 L656.6,371.6 L657.1,371.2 L657.5,366.6 L658.0,378.0 L658.4,372.8 L658.9,363.1 L659.3,373.2 L659.8,366.8 L660.2,364.9 L660.7,375.1 L661.1,373.8 L661.6,366.7 L662.0,370.3 L662.5,371.1 L662.9,373.2 L663.4,370.9 L663.8,378.8 L664.3,366.2 L664.7,366.6 L665.2,369.8 L665.6,368.8 L666.1,370.1 L666.5,377.5 L667.0,367.7 L667.4,366.6 L667.9,374.6 L668.3,374.3 L668.8,372.5 L669.2,376.5 L669.7,366.1 L670.1,379.2 L670.6,369.5 L671.0,372.2 L671.5,367.2 L671.9,370.0 L672.4,373.4 L672.8,369.7" stroke="#ff0000" stroke-width="2.7" clip-path="url(#rb)"/>
<path d="M128,351.3 L667.8,351.3" stroke="#00ff00" stroke-width="3.1"/>
<path d="M76.3,351.15 L128.5,351.15" stroke="#000" stroke-width="1.3"/>
<path d="M653.9,351.5 L671.1,351.5" stroke="#000" stroke-width="1.9"/>
<path d="M76.3,421.9571428571422 L671.1,421.9571428571422" stroke="#000" stroke-width="2.1" stroke-dasharray="2.1 5.635" stroke-dashoffset="2.995"/>
</g>
<path d="M76.30,3.55 L76.30,12.15 M98.69,3.55 L98.69,12.15 M116.99,3.55 L116.99,12.15 M132.46,3.55 L132.46,12.15 M145.86,3.55 L145.86,12.15 M157.68,3.55 L157.68,12.15 M168.25,3.55 L168.25,20.75 M237.82,3.55 L237.82,12.15 M278.51,3.55 L278.51,12.15 M307.38,3.55 L307.38,12.15 M329.77,3.55 L329.77,12.15 M348.07,3.55 L348.07,12.15 M363.54,3.55 L363.54,12.15 M376.94,3.55 L376.94,12.15 M388.76,3.55 L388.76,12.15 M399.33,3.55 L399.33,20.75 M468.89,3.55 L468.89,12.15 M509.58,3.55 L509.58,12.15 M538.45,3.55 L538.45,12.15 M560.85,3.55 L560.85,12.15 M579.15,3.55 L579.15,12.15 M594.62,3.55 L594.62,12.15 M608.02,3.55 L608.02,12.15 M619.84,3.55 L619.84,12.15 M630.41,3.55 L630.41,20.75 M76.30,292.90 L76.30,310.10 M98.69,292.90 L98.69,310.10 M116.99,292.90 L116.99,310.10 M132.46,292.90 L132.46,310.10 M145.86,292.90 L145.86,310.10 M157.68,292.90 L157.68,310.10 M168.25,284.30 L168.25,318.70 M237.82,292.90 L237.82,310.10 M278.51,292.90 L278.51,310.10 M307.38,292.90 L307.38,310.10 M329.77,292.90 L329.77,310.10 M348.07,292.90 L348.07,310.10 M363.54,292.90 L363.54,310.10 M376.94,292.90 L376.94,310.10 M388.76,292.90 L388.76,310.10 M399.33,284.30 L399.33,318.70 M468.89,292.90 L468.89,310.10 M509.58,292.90 L509.58,310.10 M538.45,292.90 L538.45,310.10 M560.85,292.90 L560.85,310.10 M579.15,292.90 L579.15,310.10 M594.62,292.90 L594.62,310.10 M608.02,292.90 L608.02,310.10 M619.84,292.90 L619.84,310.10 M630.41,284.30 L630.41,318.70 M76.30,590.50 L76.30,599.10 M98.69,590.50 L98.69,599.10 M116.99,590.50 L116.99,599.10 M132.46,590.50 L132.46,599.10 M145.86,590.50 L145.86,599.10 M157.68,590.50 L157.68,599.10 M168.25,581.90 L168.25,599.10 M237.82,590.50 L237.82,599.10 M278.51,590.50 L278.51,599.10 M307.38,590.50 L307.38,599.10 M329.77,590.50 L329.77,599.10 M348.07,590.50 L348.07,599.10 M363.54,590.50 L363.54,599.10 M376.94,590.50 L376.94,599.10 M388.76,590.50 L388.76,599.10 M399.33,581.90 L399.33,599.10 M468.89,590.50 L468.89,599.10 M509.58,590.50 L509.58,599.10 M538.45,590.50 L538.45,599.10 M560.85,590.50 L560.85,599.10 M579.15,590.50 L579.15,599.10 M594.62,590.50 L594.62,599.10 M608.02,590.50 L608.02,599.10 M619.84,590.50 L619.84,599.10 M630.41,581.90 L630.41,599.10 M76.3,283.76 L84.89999999999999,283.76 M671.1,283.76 L662.5,283.76 M76.3,266.03 L93.5,266.03 M671.1,266.03 L653.9,266.03 M76.3,248.29 L84.89999999999999,248.29 M671.1,248.29 L662.5,248.29 M76.3,230.56 L84.89999999999999,230.56 M671.1,230.56 L662.5,230.56 M76.3,212.82 L84.89999999999999,212.82 M671.1,212.82 L662.5,212.82 M76.3,195.09 L93.5,195.09 M671.1,195.09 L653.9,195.09 M76.3,177.35 L84.89999999999999,177.35 M671.1,177.35 L662.5,177.35 M76.3,159.62 L84.89999999999999,159.62 M671.1,159.62 L662.5,159.62 M76.3,141.88 L84.89999999999999,141.88 M671.1,141.88 L662.5,141.88 M76.3,124.15 L93.5,124.15 M671.1,124.15 L653.9,124.15 M76.3,106.41 L84.89999999999999,106.41 M671.1,106.41 L662.5,106.41 M76.3,88.68 L84.89999999999999,88.68 M671.1,88.68 L662.5,88.68 M76.3,70.94 L84.89999999999999,70.94 M671.1,70.94 L662.5,70.94 M76.3,53.21 L93.5,53.21 M671.1,53.21 L653.9,53.21 M76.3,35.47 L84.89999999999999,35.47 M671.1,35.47 L662.5,35.47 M76.3,17.74 L84.89999999999999,17.74 M671.1,17.74 L662.5,17.74 M76.3,581.39 L84.89999999999999,581.39 M671.1,581.39 L662.5,581.39 M76.3,563.67 L93.5,563.67 M671.1,563.67 L653.9,563.67 M76.3,545.96 L84.89999999999999,545.96 M671.1,545.96 L662.5,545.96 M76.3,528.24 L84.89999999999999,528.24 M671.1,528.24 L662.5,528.24 M76.3,510.53 L84.89999999999999,510.53 M671.1,510.53 L662.5,510.53 M76.3,492.81 L93.5,492.81 M671.1,492.81 L653.9,492.81 M76.3,475.10 L84.89999999999999,475.10 M671.1,475.10 L662.5,475.10 M76.3,457.39 L84.89999999999999,457.39 M671.1,457.39 L662.5,457.39 M76.3,439.67 L84.89999999999999,439.67 M671.1,439.67 L662.5,439.67 M76.3,421.96 L93.5,421.96 M671.1,421.96 L653.9,421.96 M76.3,404.24 L84.89999999999999,404.24 M671.1,404.24 L662.5,404.24 M76.3,386.53 L84.89999999999999,386.53 M671.1,386.53 L662.5,386.53 M76.3,368.81 L84.89999999999999,368.81 M671.1,368.81 L662.5,368.81 M76.3,351.10 L93.5,351.10 M671.1,351.10 L653.9,351.10 M76.3,333.39 L84.89999999999999,333.39 M671.1,333.39 L662.5,333.39 M76.3,315.67 L84.89999999999999,315.67 M671.1,315.67 L662.5,315.67" stroke="#000" stroke-width="1.4" fill="none"/>
<rect x="76.3" y="3.55" width="594.8000000000001" height="595.5500000000001" fill="none" stroke="#000" stroke-width="2.7"/>
<path d="M76.3,301.5 L671.1,301.5" stroke="#000" stroke-width="2.7"/>
<rect x="101.5" y="430.5" width="137.2" height="141" fill="#fff" stroke="#000" stroke-width="2.7"/>
<path d="M111.5,451.3 L145.3,451.3" stroke="#000" stroke-width="2.7"/>
<text x="162.5" y="454.6" font-size="22.7">z<tspan dy="9.5" font-size="15">in</tspan><tspan dy="-9.5">=52</tspan></text>
<path d="M111.5,484.4 L145.3,484.4" stroke="#0000ff" stroke-width="2.7"/>
<text x="162.5" y="487.7" font-size="22.7">z<tspan dy="9.5" font-size="15">in</tspan><tspan dy="-9.5">=105</tspan></text>
<path d="M111.5,517.5 L145.3,517.5" stroke="#ff0000" stroke-width="2.7"/>
<text x="162.5" y="520.8" font-size="22.7">z<tspan dy="9.5" font-size="15">in</tspan><tspan dy="-9.5">=211</tspan></text>
<path d="M111.5,550.5 L145.3,550.5" stroke="#00ff00" stroke-width="2.7"/>
<text x="162.5" y="553.8" font-size="22.7">z<tspan dy="9.5" font-size="15">in</tspan><tspan dy="-9.5">=317</tspan></text>
<text transform="translate(68.4,60.8) scale(1,1.05)" font-size="24" text-anchor="end">1</text>
<text transform="translate(68.4,131.7) scale(1,1.05)" font-size="24" text-anchor="end">0.99</text>
<text transform="translate(68.4,202.7) scale(1,1.05)" font-size="24" text-anchor="end">0.98</text>
<text transform="translate(68.4,273.6) scale(1,1.05)" font-size="24" text-anchor="end">0.97</text>
<text transform="translate(68.4,358.7) scale(1,1.05)" font-size="24" text-anchor="end">1</text>
<text transform="translate(68.4,429.6) scale(1,1.05)" font-size="24" text-anchor="end">0.99</text>
<text transform="translate(68.4,500.4) scale(1,1.05)" font-size="24" text-anchor="end">0.98</text>
<text transform="translate(68.4,571.3) scale(1,1.05)" font-size="24" text-anchor="end">0.97</text>
<text transform="translate(168.8,624.0) scale(1,1.02)" font-size="24" text-anchor="middle">0.01</text>
<text transform="translate(399.8,624.0) scale(1,1.02)" font-size="24" text-anchor="middle">0.1</text>
<text transform="translate(630.9,624.0) scale(1,1.02)" font-size="24" text-anchor="middle">1</text>
<text x="374.0" y="648.2" font-size="23.5" text-anchor="middle">k[h/Mpc]</text>
<text transform="translate(17.8,152.5) rotate(-90)" font-size="24" text-anchor="middle">Ratio</text>
<text transform="translate(17.8,450.3) rotate(-90)" font-size="24" text-anchor="middle">Ratio</text>
<text x="101.2" y="45.0" font-size="23">z=1</text>
<text x="101.2" y="341.0" font-size="23">z=0</text>
</svg>
</body></html>
